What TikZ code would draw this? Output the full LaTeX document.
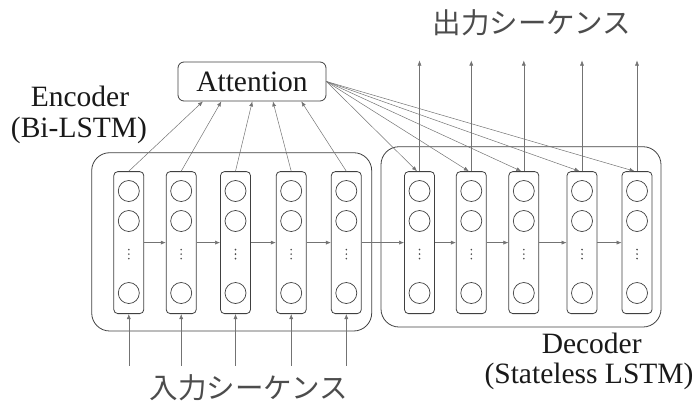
\documentclass[tikz,border=0pt]{standalone}
\usepackage{fontspec}
\setmainfont{Liberation Serif}
\newfontfamily\jpfont{Noto Sans CJK JP}
\usetikzlibrary{arrows.meta,calc}
\begin{document}
\begin{tikzpicture}[x=1pt,y=-1pt,
  frame/.style={draw=black!75, line width=0.8pt, rounded corners=18pt},
  cell/.style={draw=black!75, line width=0.8pt, rounded corners=4pt,
    minimum width=30pt, minimum height=142pt, inner sep=0pt},
  unit/.style={circle, draw=black!75, line width=0.7pt, minimum size=21pt, inner sep=0pt},
  link/.style={draw=black!55, line width=0.5pt, -{Latex[length=5pt,width=4pt]}},
  txt/.style={font=\fontsize{29.5}{30}\selectfont, inner sep=0pt, text=black!90},
  jtxt/.style={font=\jpfont\fontsize{28.5}{30}\selectfont, inner sep=0pt, text=black!70}]

\useasboundingbox (0,0) rectangle (696,402);

% encoder and decoder frames
\draw[frame] (91.7,152.7) rectangle (371.7,331);
\draw[frame] (381,146.7) rectangle (661,327);

% LSTM cells: encoder e1..e5, decoder d1..d5
\foreach \n/\x in {e1/128.8, e2/181.2, e3/235.5, e4/291.2, e5/346.3,
                   d1/419.5, d2/471.3, d3/523.8, d4/582, d5/637} {
  \node[cell] (\n) at (\x,242.6) {};
  \node[unit] (\n-a) at ($(\n.center)+(0,-51.6)$) {};
  \node[unit] (\n-b) at ($(\n.center)+(0,-21.6)$) {};
  \node[unit] (\n-c) at ($(\n.center)+(0,50.4)$) {};
  \foreach \dy in {7,11.5,16}
    \fill[black!70] ($(\n.center)+(0,\dy)$) circle (0.9pt);
}

% attention block
\node[draw=black!75, line width=0.8pt, rounded corners=6pt, minimum width=148pt,
  minimum height=39pt, inner sep=0pt, txt] (att) at (252,81.5) {Attention};

% recurrent links between neighbouring cells
\foreach \a/\b in {e1/e2, e2/e3, e3/e4, e4/e5, e5/d1, d1/d2, d2/d3, d3/d4, d4/d5}
  \draw[link] (\a.east) -- (\b.west);

% encoder states into attention
\foreach \n/\dx in {e1/25.3, e2/43.7, e3/74.7, e4/95.3, e5/123.7}
  \draw[link] (\n.north) -- ($(att.south west)+(\dx,0)$);

% attention context into each decoder cell
\foreach \n in {d1,d2,d3,d4,d5}
  \draw[link] (att.east) -- ($(\n.north)+(-2.5,0)$);

% output sequence
\foreach \n in {d1,d2,d3,d4,d5} {
  \coordinate (\n-out) at ($(\n.north)+(0,-110.7)$);
  \draw[link] (\n.north) -- (\n-out);
}

% input sequence
\foreach \n in {e1,e2,e3,e4,e5} {
  \coordinate (\n-in) at ($(\n.south)+(0,51.5)$);
  \draw[link] (\n-in) -- (\n.south);
}

% labels
\node[txt, anchor=base] (enc1) at (80,106.7) {Encoder};
\node[txt, anchor=base] (enc2) at (79,137) {(Bi-LSTM)};
\node[txt, anchor=base] (dec1) at (591.7,353.3) {Decoder};
\node[txt, anchor=base] (dec2) at (589,383) {(Stateless LSTM)};
\node[jtxt] (outlbl) at (532,22.5) {出力シーケンス};
\node[jtxt] (inlbl) at (249,387.5) {入力シーケンス};
\end{tikzpicture}
\end{document}
